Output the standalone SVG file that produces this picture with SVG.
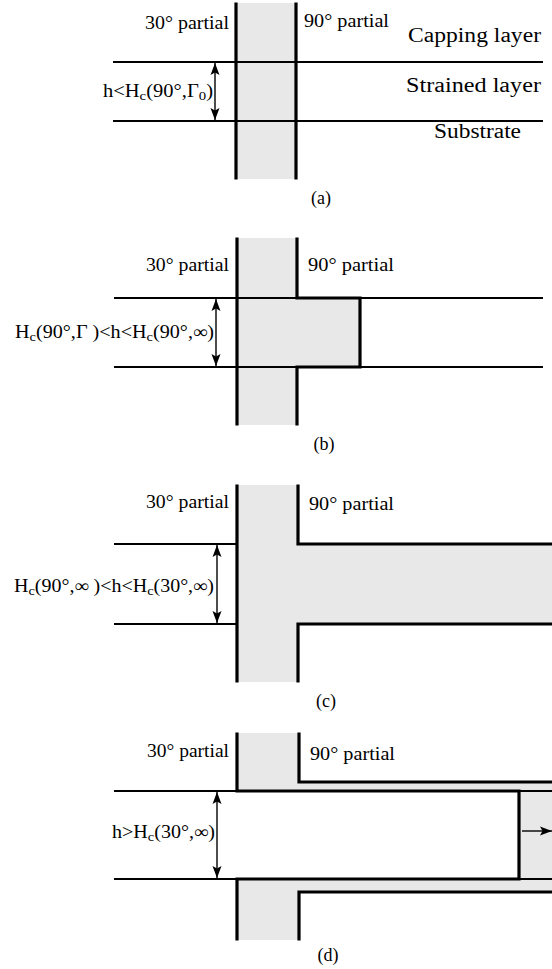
<svg xmlns="http://www.w3.org/2000/svg" width="552" height="969" viewBox="0 0 552 969">
  <style>
    .txt { font-family: "Liberation Serif", "Times New Roman", serif; font-size: 18px; fill: #000; }
    .big { font-size: 20.5px; }
    .shade { fill: #e8e8e8; stroke: none; }
    .thin { fill: none; stroke: #000; stroke-width: 1.8; }
    .thick { fill: none; stroke: #000; stroke-width: 3.2; stroke-linejoin: miter; stroke-linecap: square; }
    .dim { fill: none; stroke: #000; stroke-width: 1.4; }
  </style>
  <defs>
    <marker id="head" viewBox="0 0 12 10" refX="12" refY="5" markerWidth="12" markerHeight="10" markerUnits="userSpaceOnUse" orient="auto-start-reverse">
      <path d="M0,0.5 L12,5 L0,9.5 L2.5,5 Z" fill="#000"/>
    </marker>
  </defs>
  <rect width="552" height="969" fill="#fff"/>

  <!-- (a) both partials still pinned; layer stack labelled -->
  <g id="panel-a">
    <rect class="shade" x="236" y="3" width="60" height="176"/>
    <path class="thin" d="M113 62 H543 M113 121 H543"/>
    <path class="thick" d="M236 4 V178 M296 4 V178"/>
    <text class="txt" x="145" y="29" textLength="84" lengthAdjust="spacingAndGlyphs">30° partial</text>
    <text class="txt" x="304" y="27" textLength="85" lengthAdjust="spacingAndGlyphs">90° partial</text>
    <text class="txt big" x="408" y="42" textLength="133" lengthAdjust="spacingAndGlyphs">Capping layer</text>
    <text class="txt big" x="406" y="92" textLength="135" lengthAdjust="spacingAndGlyphs">Strained layer</text>
    <text class="txt big" x="434" y="138" textLength="87" lengthAdjust="spacingAndGlyphs">Substrate</text>
    <text class="txt" x="103" y="97" textLength="110" lengthAdjust="spacingAndGlyphs">h&lt;H<tspan font-size="13" dy="3">c</tspan><tspan dy="-3">(90°,Γ</tspan><tspan font-size="13" dy="3">0</tspan><tspan dy="-3">)</tspan></text>
    <text class="txt" x="321" y="204" text-anchor="middle">(a)</text>
  </g>

  <!-- (b) 90° partial bowed out into the strained layer -->
  <g id="panel-b">
    <rect class="shade" x="237" y="238" width="60" height="187"/>
    <rect class="shade" x="237" y="298" width="123" height="69"/>
    <path class="thin" d="M114 298 H543 M114 367 H543"/>
    <path class="thick" d="M237 239 V424 M297 239 V298 H360 V367 H297 V424"/>
    <text class="txt" x="146" y="271" textLength="83" lengthAdjust="spacingAndGlyphs">30° partial</text>
    <text class="txt" x="308" y="271" textLength="86" lengthAdjust="spacingAndGlyphs">90° partial</text>
    <text class="txt" x="15" y="338" textLength="199" lengthAdjust="spacingAndGlyphs">H<tspan font-size="13" dy="3">c</tspan><tspan dy="-3">(90°,Γ )&lt;h&lt;H</tspan><tspan font-size="13" dy="3">c</tspan><tspan dy="-3">(90°,∞)</tspan></text>
    <text class="txt" x="324" y="450" text-anchor="middle">(b)</text>
  </g>

  <!-- (c) 90° partial runs away, stacking fault spans the layer -->
  <g id="panel-c">
    <rect class="shade" x="237" y="485" width="61" height="197"/>
    <rect class="shade" x="237" y="544" width="315" height="80"/>
    <path class="thin" d="M114 544 H237 M114 624 H237"/>
    <path class="thick" d="M237 486 V681 M298 486 V544 H552 M298 681 V624 H552"/>
    <text class="txt" x="146" y="508" textLength="83" lengthAdjust="spacingAndGlyphs">30° partial</text>
    <text class="txt" x="309" y="510" textLength="85" lengthAdjust="spacingAndGlyphs">90° partial</text>
    <text class="txt" x="14" y="592" textLength="200" lengthAdjust="spacingAndGlyphs">H<tspan font-size="13" dy="3">c</tspan><tspan dy="-3">(90°,∞ )&lt;h&lt;H</tspan><tspan font-size="13" dy="3">c</tspan><tspan dy="-3">(30°,∞)</tspan></text>
    <text class="txt" x="326" y="707" text-anchor="middle">(c)</text>
  </g>

  <!-- (d) 30° partial follows, fault removed behind it -->
  <g id="panel-d">
    <rect class="shade" x="237" y="733" width="62" height="58"/>
    <rect class="shade" x="237" y="879" width="62" height="61"/>
    <rect class="shade" x="299" y="782" width="253" height="9"/>
    <rect class="shade" x="299" y="879" width="253" height="13"/>
    <rect class="shade" x="519" y="791" width="33" height="88"/>
    <path class="thin" d="M114 791 H237 M114 879 H237 M519 791 H552 M519 879 H552"/>
    <path class="thick" d="M237 734 V791 H519 V879 H237 V939 M299 734 V782 H552 M299 939 V892 H552"/>
    <text class="txt" x="147" y="757" textLength="82" lengthAdjust="spacingAndGlyphs">30° partial</text>
    <text class="txt" x="310" y="760" textLength="85" lengthAdjust="spacingAndGlyphs">90° partial</text>
    <text class="txt" x="112" y="838" textLength="103" lengthAdjust="spacingAndGlyphs">h&gt;H<tspan font-size="13" dy="3">c</tspan><tspan dy="-3">(30°,∞)</tspan></text>
    <text class="txt" x="328" y="961" text-anchor="middle">(d)</text>
  </g>

  <!-- thickness arrows and glide direction -->
  <g id="connectors">
    <path class="dim" d="M215 63 V120" marker-start="url(#head)" marker-end="url(#head)"/>
    <path class="dim" d="M216 299 V366" marker-start="url(#head)" marker-end="url(#head)"/>
    <path class="dim" d="M217 545 V623" marker-start="url(#head)" marker-end="url(#head)"/>
    <path class="dim" d="M217 792 V878" marker-start="url(#head)" marker-end="url(#head)"/>
    <path class="dim" d="M522 831 H552" marker-end="url(#head)"/>
  </g>
</svg>
